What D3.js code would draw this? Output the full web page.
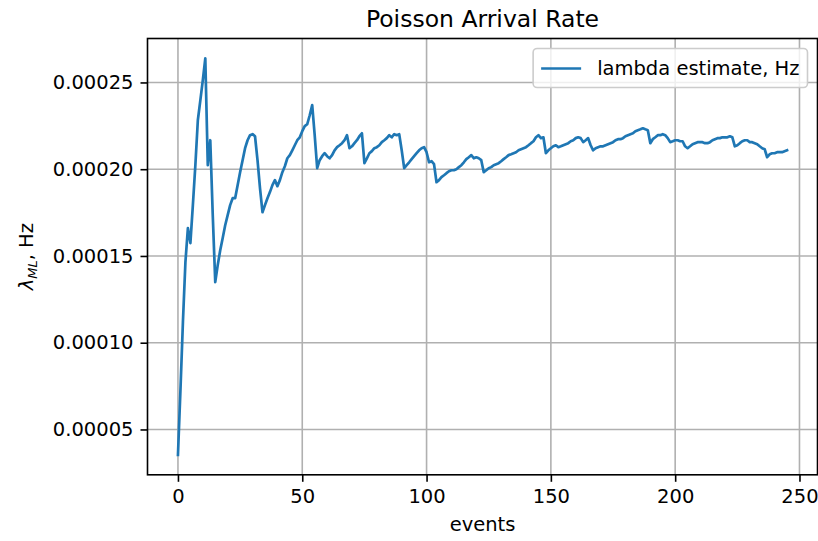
<!DOCTYPE html>
<html><head><meta charset="utf-8">
<script src="https://cdn.jsdelivr.net/npm/d3@7"></script>
<style>body{margin:0;background:#fff}svg{display:block}text{font-family:"DejaVu Sans",sans-serif;fill:#000}</style>
</head><body><svg id="c" width="818" height="541"></svg>
<script>
// λ_ML estimate (Hz) after each event
const lambdaEstimate = [
3.53e-5,7.27e-5,1.119e-4,1.464e-4,1.660e-4,1.574e-4,1.793e-4,2.023e-4,2.282e-4,2.397e-4,
2.513e-4,2.639e-4,2.023e-4,2.167e-4,1.735e-4,1.349e-4,1.447e-4,1.533e-4,1.603e-4,1.677e-4,
1.735e-4,1.793e-4,1.833e-4,1.833e-4,1.908e-4,1.983e-4,2.052e-4,2.121e-4,2.167e-4,2.196e-4,
2.202e-4,2.190e-4,2.052e-4,1.891e-4,1.752e-4,1.793e-4,1.833e-4,1.868e-4,1.908e-4,1.937e-4,
1.902e-4,1.937e-4,1.983e-4,2.017e-4,2.063e-4,2.081e-4,2.109e-4,2.138e-4,2.167e-4,2.184e-4,
2.219e-4,2.248e-4,2.259e-4,2.311e-4,2.369e-4,2.196e-4,2.006e-4,2.052e-4,2.075e-4,2.092e-4,
2.075e-4,2.063e-4,2.081e-4,2.109e-4,2.127e-4,2.138e-4,2.150e-4,2.167e-4,2.196e-4,2.121e-4,
2.132e-4,2.150e-4,2.167e-4,2.190e-4,2.207e-4,2.035e-4,2.063e-4,2.092e-4,2.104e-4,2.121e-4,
2.127e-4,2.138e-4,2.156e-4,2.167e-4,2.179e-4,2.196e-4,2.184e-4,2.202e-4,2.196e-4,2.202e-4,
2.109e-4,2.006e-4,2.023e-4,2.040e-4,2.058e-4,2.075e-4,2.092e-4,2.109e-4,2.121e-4,2.127e-4,
2.098e-4,2.040e-4,2.046e-4,2.029e-4,1.925e-4,1.937e-4,1.954e-4,1.965e-4,1.977e-4,1.988e-4,
1.994e-4,1.994e-4,2.000e-4,2.012e-4,2.023e-4,2.040e-4,2.058e-4,2.069e-4,2.081e-4,2.063e-4,
2.069e-4,2.063e-4,2.052e-4,1.983e-4,1.994e-4,2.006e-4,2.012e-4,2.023e-4,2.029e-4,2.035e-4,
2.046e-4,2.058e-4,2.069e-4,2.081e-4,2.086e-4,2.092e-4,2.098e-4,2.109e-4,2.115e-4,2.121e-4,
2.127e-4,2.138e-4,2.150e-4,2.161e-4,2.184e-4,2.196e-4,2.179e-4,2.184e-4,2.092e-4,2.109e-4,
2.121e-4,2.132e-4,2.138e-4,2.127e-4,2.132e-4,2.138e-4,2.144e-4,2.150e-4,2.161e-4,2.167e-4,
2.179e-4,2.184e-4,2.179e-4,2.156e-4,2.167e-4,2.179e-4,2.138e-4,2.109e-4,2.121e-4,2.127e-4,
2.132e-4,2.132e-4,2.138e-4,2.144e-4,2.150e-4,2.156e-4,2.167e-4,2.173e-4,2.173e-4,2.179e-4,
2.190e-4,2.196e-4,2.202e-4,2.207e-4,2.219e-4,2.225e-4,2.230e-4,2.236e-4,2.230e-4,2.225e-4,
2.150e-4,2.173e-4,2.184e-4,2.196e-4,2.196e-4,2.202e-4,2.196e-4,2.179e-4,2.156e-4,2.161e-4,
2.167e-4,2.167e-4,2.161e-4,2.161e-4,2.132e-4,2.121e-4,2.132e-4,2.144e-4,2.150e-4,2.156e-4,
2.156e-4,2.156e-4,2.150e-4,2.150e-4,2.156e-4,2.167e-4,2.173e-4,2.179e-4,2.179e-4,2.184e-4,
2.184e-4,2.184e-4,2.190e-4,2.184e-4,2.132e-4,2.138e-4,2.150e-4,2.161e-4,2.167e-4,2.167e-4,
2.156e-4,2.156e-4,2.150e-4,2.144e-4,2.132e-4,2.121e-4,2.115e-4,2.069e-4,2.086e-4,2.092e-4,
2.092e-4,2.098e-4,2.098e-4,2.098e-4,2.104e-4,2.109e-4
];
const xTicks = [0, 50, 100, 150, 200, 250];
const yTicks = [0.00005, 0.00010, 0.00015, 0.00020, 0.00025];
const yTickLabels = ["0.00005", "0.00010", "0.00015", "0.00020", "0.00025"];
const titleText = "Poisson Arrival Rate";
const xLabel = "events";
const legendLabel = "lambda estimate, Hz";

const svg = d3.select("#c");
const L = 147.5, R = 817.5, T = 38.5, B = 474.8;
const n = lambdaEstimate.length - 1;
const xm = n * 0.05;
const x = d3.scaleLinear().domain([-xm, n + xm]).range([L, R]);
const [ymin, ymax] = d3.extent(lambdaEstimate);
const ym = (ymax - ymin) * 0.05;
const y = d3.scaleLinear().domain([ymin - ym, ymax + ym]).range([B, T]);

// grid
const g = svg.append("g");
g.selectAll(".gx").data(xTicks).join("line")
  .attr("x1", d => x(d)).attr("x2", d => x(d)).attr("y1", T).attr("y2", B)
  .attr("stroke", "#b0b0b0").attr("stroke-width", 1.6);
g.selectAll(".gy").data(yTicks).join("line")
  .attr("x1", L).attr("x2", R).attr("y1", d => y(d)).attr("y2", d => y(d))
  .attr("stroke", "#b0b0b0").attr("stroke-width", 1.6);

// line
svg.append("path").datum(lambdaEstimate)
  .attr("fill", "none").attr("stroke", "#1f77b4").attr("stroke-width", 2.7)
  .attr("stroke-linejoin", "round").attr("stroke-linecap", "square")
  .attr("d", d3.line().x((d, i) => x(i)).y(d => y(d)));

// axes
const xAxis = svg.append("g").attr("transform", `translate(0,${B})`)
  .call(d3.axisBottom(x).tickValues(xTicks).tickSize(7).tickPadding(7).tickFormat(d3.format("d")));
const yAxis = svg.append("g").attr("transform", `translate(${L},0)`)
  .call(d3.axisLeft(y).tickValues(yTicks).tickSize(7).tickPadding(7).tickFormat((d, i) => yTickLabels[i]));
[xAxis, yAxis].forEach(a => {
  a.select(".domain").remove();
  a.selectAll(".tick line").attr("stroke", "#000").attr("stroke-width", 1.6);
  a.selectAll(".tick text").attr("font-size", 19.5).attr("font-family", "DejaVu Sans").attr("fill", "#000");
});

// spines
svg.append("rect").attr("x", L).attr("y", T).attr("width", R - L).attr("height", B - T)
  .attr("fill", "none").attr("stroke", "#000").attr("stroke-width", 1.6);

// title and labels
svg.append("text").attr("x", (L + R) / 2).attr("y", 27).attr("text-anchor", "middle")
  .attr("font-size", 23.5).text(titleText);
svg.append("text").attr("x", (L + R) / 2).attr("y", 531).attr("text-anchor", "middle")
  .attr("font-size", 19.5).text(xLabel);
const yl = svg.append("text").attr("transform", `translate(33,${(T + B) / 2}) rotate(-90)`)
  .attr("text-anchor", "middle").attr("font-size", 19.5);
yl.append("tspan").attr("font-style", "italic").text("λ");
yl.append("tspan").attr("font-style", "italic").attr("font-size", 13).attr("dy", 4).text("ML");
yl.append("tspan").attr("dy", -4).text(", Hz");

// legend
const lgR = R - 10, lgT = T + 10;
const lg = svg.append("g");
const lt = lg.append("text").attr("font-size", 19.5).attr("text-anchor", "end")
  .attr("x", lgR - 8).attr("y", lgT + 8 + 18.5).text(legendLabel);
const tw = lt.node().getComputedTextLength();
const textLeft = lgR - 8 - tw;
const boxL = textLeft - 16 - 40 - 8;
lg.insert("rect", "text").attr("x", boxL).attr("y", lgT).attr("width", lgR - boxL).attr("height", 39)
  .attr("rx", 4).attr("fill", "#fff").attr("fill-opacity", 0.8).attr("stroke", "#cccccc").attr("stroke-width", 1.6);
lg.append("line").attr("x1", textLeft - 16 - 40).attr("x2", textLeft - 16)
  .attr("y1", lgT + 8 + 12).attr("y2", lgT + 8 + 12)
  .attr("stroke", "#1f77b4").attr("stroke-width", 2.7);
</script></body></html>
